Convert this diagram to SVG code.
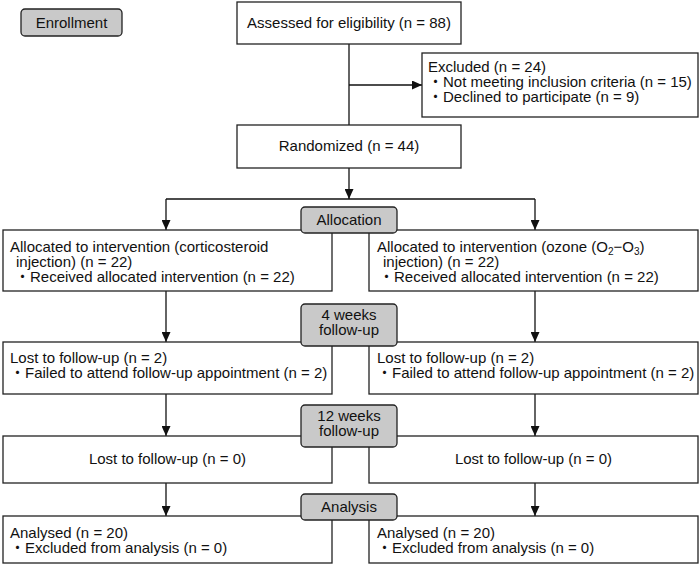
<svg xmlns="http://www.w3.org/2000/svg" width="700" height="567" viewBox="0 0 700 567">
<defs>
<style>
.box{fill:#fff;stroke:#222;stroke-width:1.3}
.lab{fill:#c9c9c9;stroke:#222;stroke-width:1.3}
.t{font-family:"Liberation Sans","Noto Sans CJK JP",Arial,sans-serif;font-size:15px;fill:#111}
.c{text-anchor:middle}
.ln{fill:none;stroke:#111;stroke-width:1.3}
</style>
<marker id="arr" viewBox="0 0 10 10" refX="10" refY="5" markerWidth="10" markerHeight="9" orient="auto" markerUnits="userSpaceOnUse" preserveAspectRatio="none">
<path d="M0,0 L10,5 L0,10 z" fill="#111"/>
</marker>
</defs>
<rect width="700" height="567" fill="#fff"/>

<g id="connectors">
<path class="ln" d="M349,44 V125"/>
<path class="ln" d="M349,85 H422" marker-end="url(#arr)"/>
<path class="ln" d="M349,168 V199" marker-end="url(#arr)"/>
<path class="ln" d="M166,199 H535"/>
<path class="ln" d="M166,199 V230" marker-end="url(#arr)"/>
<path class="ln" d="M535,199 V230" marker-end="url(#arr)"/>
<path class="ln" d="M166,291 V342" marker-end="url(#arr)"/>
<path class="ln" d="M535,291 V342" marker-end="url(#arr)"/>
<path class="ln" d="M166,394 V436" marker-end="url(#arr)"/>
<path class="ln" d="M535,394 V436" marker-end="url(#arr)"/>
<path class="ln" d="M166,483 V516" marker-end="url(#arr)"/>
<path class="ln" d="M535,483 V516" marker-end="url(#arr)"/>
</g>

<g id="enrollment">
<rect class="lab" x="21" y="9" width="101" height="27" rx="4"/>
<text class="t c" x="71.5" y="28">Enrollment</text>
</g>

<g id="assessed">
<rect class="box" x="237" y="2" width="224" height="42"/>
<text class="t c" x="349" y="28">Assessed for eligibility (n = 88)</text>
</g>

<g id="excluded">
<rect class="box" x="422" y="53" width="276" height="64"/>
<text class="t" x="428" y="72">Excluded (n = 24)</text>
<text class="t" x="428" y="87">・Not meeting inclusion criteria (n = 15)</text>
<text class="t" x="428" y="102">・Declined to participate (n = 9)</text>
</g>

<g id="randomized">
<rect class="box" x="237" y="125" width="224" height="43"/>
<text class="t c" x="349" y="151">Randomized (n = 44)</text>
</g>

<g id="alloc-left">
<rect class="box" x="3" y="230" width="329" height="61"/>
<text class="t" x="10" y="252">Allocated to intervention (corticosteroid</text>
<text class="t" x="16" y="267">injection) (n = 22)</text>
<text class="t" x="15" y="282">・Received allocated intervention (n = 22)</text>
</g>

<g id="alloc-right">
<rect class="box" x="369" y="230" width="329" height="61"/>
<text class="t" x="377" y="252">Allocated to intervention (ozone (O<tspan dy="3" font-size="10">2</tspan><tspan dy="-3">−O</tspan><tspan dy="3" font-size="10">3</tspan><tspan dy="-3">)</tspan></text>
<text class="t" x="383" y="267">injection) (n = 22)</text>
<text class="t" x="379" y="282">・Received allocated intervention (n = 22)</text>
</g>

<g id="allocation">
<rect class="lab" x="301" y="207" width="96" height="26" rx="4"/>
<text class="t c" x="349" y="225">Allocation</text>
</g>

<g id="lost4-left">
<rect class="box" x="3" y="342" width="329" height="52"/>
<text class="t" x="10" y="363">Lost to follow-up (n = 2)</text>
<text class="t" x="10" y="378">・Failed to attend follow-up appointment (n = 2)</text>
</g>

<g id="lost4-right">
<rect class="box" x="369" y="342" width="329" height="52"/>
<text class="t" x="377" y="363">Lost to follow-up (n = 2)</text>
<text class="t" x="377" y="378">・Failed to attend follow-up appointment (n = 2)</text>
</g>

<g id="followup4">
<rect class="lab" x="301" y="304" width="96" height="42" rx="4"/>
<text class="t c" x="349" y="320">4 weeks</text>
<text class="t c" x="349" y="335">follow-up</text>
</g>

<g id="lost12-left">
<rect class="box" x="3" y="436" width="329" height="47"/>
<text class="t c" x="167.5" y="464">Lost to follow-up (n = 0)</text>
</g>

<g id="lost12-right">
<rect class="box" x="369" y="436" width="329" height="47"/>
<text class="t c" x="533.5" y="464">Lost to follow-up (n = 0)</text>
</g>

<g id="followup12">
<rect class="lab" x="301" y="405" width="96" height="42" rx="4"/>
<text class="t c" x="349" y="421">12 weeks</text>
<text class="t c" x="349" y="436">follow-up</text>
</g>

<g id="analysed-left">
<rect class="box" x="3" y="516" width="329" height="47"/>
<text class="t" x="10" y="538">Analysed (n = 20)</text>
<text class="t" x="10" y="553">・Excluded from analysis (n = 0)</text>
</g>

<g id="analysed-right">
<rect class="box" x="369" y="516" width="329" height="47"/>
<text class="t" x="377" y="538">Analysed (n = 20)</text>
<text class="t" x="377" y="553">・Excluded from analysis (n = 0)</text>
</g>

<g id="analysis">
<rect class="lab" x="301" y="494" width="96" height="26" rx="4"/>
<text class="t c" x="349" y="512">Analysis</text>
</g>
</svg>
